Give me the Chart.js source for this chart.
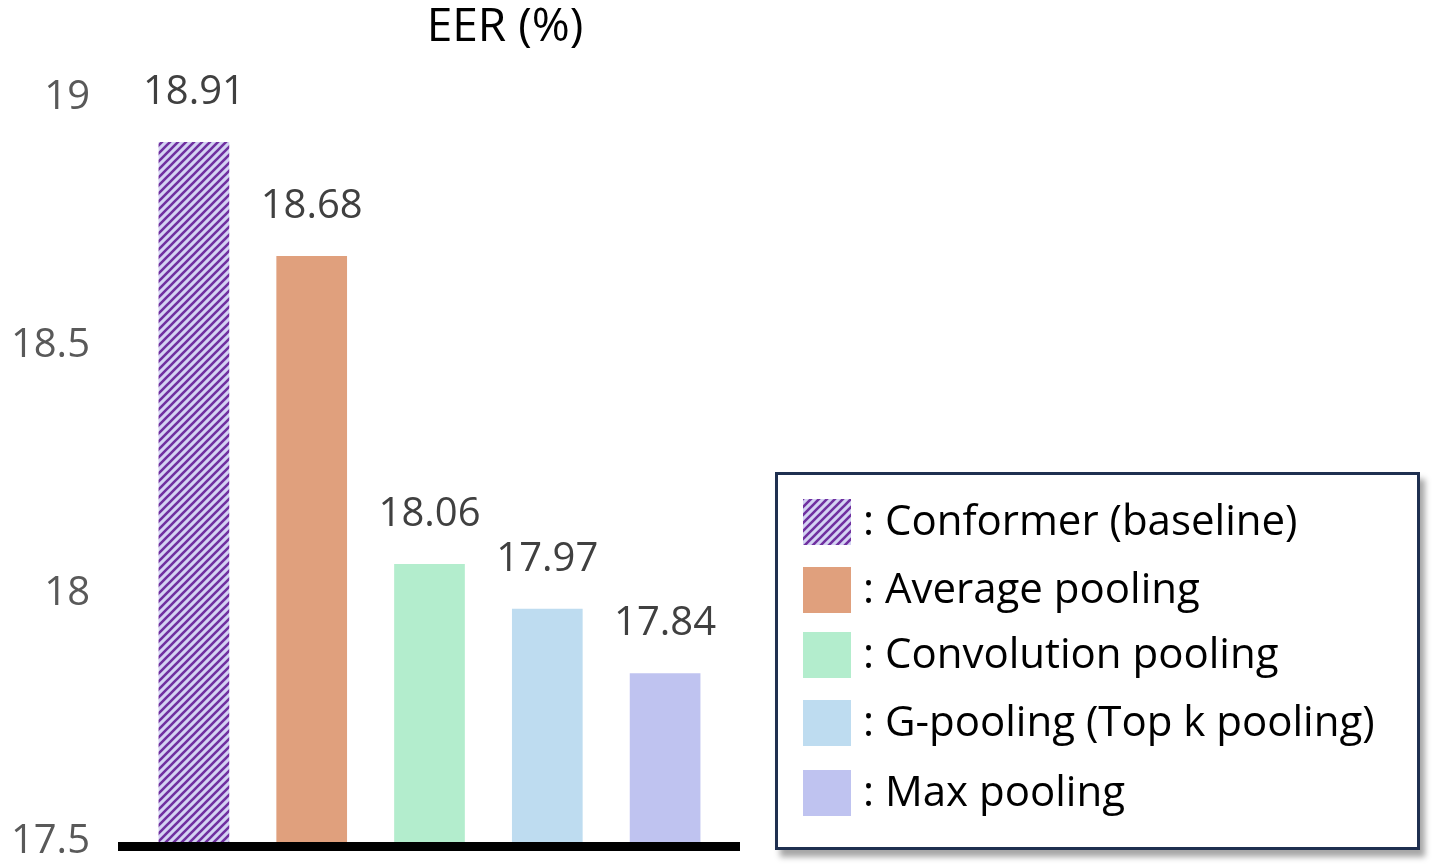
<!DOCTYPE html>
<html>
<head>
<meta charset="utf-8">
<script src="https://cdn.jsdelivr.net/npm/chart.js@4.4.1/dist/chart.umd.min.js"></script>
<style>
  html, body { margin: 0; padding: 0; background: #fff; overflow: hidden; }
  #wrap { position: relative; width: 1438px; height: 866px; font-family: "Open Sans", sans-serif; }
  #chart { position: absolute; left: 0; top: 0; }
  #legend {
    position: absolute; left: 775px; top: 472px; width: 639px; height: 372px;
    border: 3px solid #1f3050; background: #fff;
    box-shadow: 5px 7px 6px rgba(0,0,0,0.35);
  }
  .item { position: absolute; left: 25px; height: 46px; display: flex; align-items: center; font-size: 42px; color: #000; white-space: nowrap; }
  .item span { position: relative; top: -4px; }
  .sw { width: 48px; height: 46px; margin-right: 12px; flex: none; }
</style>
</head>
<body>
<div id="wrap">
  <canvas id="chart" width="1010" height="866"></canvas>
  <div id="legend"></div>
</div>
<script>
const categories = ['Conformer (baseline)', 'Average pooling', 'Convolution pooling', 'G-pooling (Top k pooling)', 'Max pooling'];
const eerValues = [18.91, 18.68, 18.06, 17.97, 17.84];
const barColors = ['#d4d3f3', '#e0a07d', '#b3edcd', '#bedcf0', '#bfc3f0'];
const yTicks = [17.5, 18, 18.5, 19];

// diagonal hatch for the baseline bar
function makeHatch(bg) {
  const c = document.createElement('canvas');
  c.width = 8; c.height = 8;
  const g = c.getContext('2d');
  g.fillStyle = bg;
  g.fillRect(0, 0, 8, 8);
  g.strokeStyle = '#7030a0';
  g.lineWidth = 2.6;
  g.beginPath();
  g.moveTo(-2, 10); g.lineTo(10, -2);
  g.moveTo(-2, 2); g.lineTo(2, -2);
  g.moveTo(6, 10); g.lineTo(10, 6);
  g.stroke();
  return c;
}
const hatchCanvas = makeHatch(barColors[0]);

const ctx = document.getElementById('chart').getContext('2d');
const hatch = ctx.createPattern(hatchCanvas, 'repeat');
const fills = barColors.map((c, i) => (i === 0 ? hatch : c));

// value labels above bars + thick base line
const extras = {
  id: 'extras',
  afterDatasetsDraw(chart) {
    const { ctx, chartArea, scales } = chart;
    const meta = chart.getDatasetMeta(0);
    ctx.save();
    ctx.font = '40px "Open Sans"';
    ctx.fillStyle = '#404040';
    ctx.textAlign = 'center';
    ctx.textBaseline = 'alphabetic';
    meta.data.forEach((bar, i) => {
      ctx.fillText(eerValues[i].toFixed(2), bar.x, bar.y - 38);
    });
    const y0 = scales.y.getPixelForValue(yTicks[0]);
    ctx.fillStyle = '#000';
    ctx.fillRect(chartArea.left - 17, y0, chartArea.right - chartArea.left + 33, 9);
    ctx.restore();
  }
};

// invisible spacer axes, only used to reserve room around the plot
const spacer = (pos, w, weight) => ({
  type: 'linear',
  position: pos,
  weight: weight,
  grid: { display: false },
  border: { display: false },
  ticks: { display: false },
  afterFit: (s) => { s.width = w; },
});

new Chart(ctx, {
  type: 'bar',
  data: {
    labels: categories,
    datasets: [{
      data: eerValues,
      backgroundColor: fills,
      borderWidth: 0,
      barPercentage: 0.6,
      categoryPercentage: 1.0,
    }],
  },
  options: {
    responsive: false,
    animation: false,
    layout: { padding: { top: 0, bottom: 23, left: 0, right: 0 } },
    plugins: {
      legend: { display: false },
      tooltip: { enabled: false },
      title: {
        display: true,
        text: 'EER (%)',
        color: '#000',
        font: { family: 'Open Sans', size: 46, weight: 'normal' },
        padding: { top: 0, bottom: 42 },
      },
    },
    scales: {
      x: {
        display: false,
      },
      y: {
        weight: 2,
        min: yTicks[0],
        max: yTicks[yTicks.length - 1],
        afterBuildTicks: (s) => { s.ticks = yTicks.map((v) => ({ value: v })); },
        grid: { display: false, drawTicks: false },
        border: { display: false },
        ticks: {
          color: '#595959',
          padding: 0,
          font: { family: 'Open Sans', size: 40 },
          callback: (v) => String(v),
        },
        afterFit: (s) => { s.width = 90; },
      },
      gapL: spacer('left', 45, 1),
      gapR: spacer('right', 286, 1),
    },
  },
  plugins: [extras],
});

// legend built from the same arrays
const legend = document.getElementById('legend');
const rowTops = [24, 92, 157, 225, 295];
categories.forEach((name, i) => {
  const row = document.createElement('div');
  row.className = 'item';
  row.style.top = rowTops[i] + 'px';
  const sw = document.createElement('div');
  sw.className = 'sw';
  if (i === 0) {
    sw.style.background = 'url(' + hatchCanvas.toDataURL() + ')';
  } else {
    sw.style.background = barColors[i];
  }
  const t = document.createElement('span');
  t.textContent = ': ' + name;
  row.appendChild(sw);
  row.appendChild(t);
  legend.appendChild(row);
});
</script>
</body>
</html>
